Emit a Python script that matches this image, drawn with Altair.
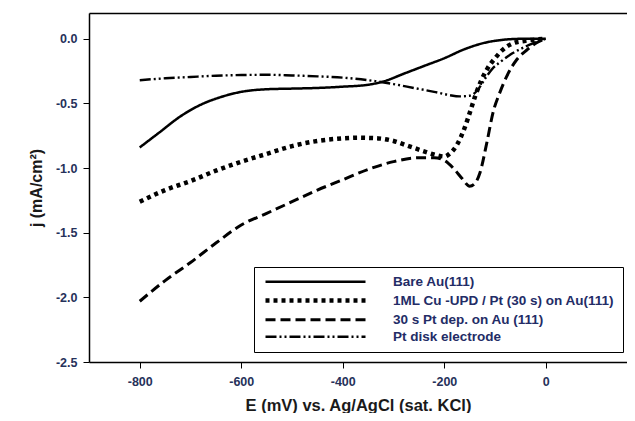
import altair as alt
import pandas as pd

series_names = [
    "Bare Au(111)",
    "1ML Cu -UPD / Pt (30 s) on Au(111)",
    "30 s Pt dep. on Au (111)",
    "Pt disk electrode",
]

bare_E = [-800, -760, -720, -680, -640, -600, -550, -500, -450, -400, -350, -320, -280, -240, -200, -160, -120, -90, -50, 0]
bare_j = [-0.84, -0.72, -0.60, -0.51, -0.45, -0.41, -0.39, -0.385, -0.38, -0.37, -0.355, -0.33, -0.27, -0.21, -0.15, -0.08, -0.03, -0.01, 0.0, 0.0]

cu_E = [-800, -750, -700, -650, -600, -550, -500, -450, -400, -370, -330, -300, -270, -240, -215, -200, -190, -175, -160, -148, -138, -128, -115, -100, -85, -65, -40, 0]
cu_j = [-1.26, -1.17, -1.10, -1.02, -0.95, -0.89, -0.83, -0.79, -0.77, -0.765, -0.77, -0.79, -0.83, -0.87, -0.90, -0.91, -0.89, -0.82, -0.69, -0.55, -0.43, -0.33, -0.23, -0.15, -0.085, -0.035, -0.015, 0.0]

pt30_E = [-800, -750, -700, -650, -600, -550, -500, -450, -400, -350, -300, -250, -220, -200, -180, -165, -150, -140, -130, -116, -104, -91, -77, -57, -37, -18, 0]
pt30_j = [-2.03, -1.87, -1.73, -1.58, -1.44, -1.35, -1.26, -1.17, -1.09, -1.01, -0.95, -0.92, -0.92, -0.94, -1.01, -1.08, -1.14, -1.12, -1.04, -0.80, -0.57, -0.42, -0.29, -0.16, -0.085, -0.03, 0.0]

disk_E = [-800, -750, -700, -650, -600, -550, -500, -450, -400, -350, -300, -260, -220, -190, -170, -150, -135, -120, -105, -90, -65, -40, -20, 0]
disk_j = [-0.32, -0.305, -0.295, -0.285, -0.28, -0.278, -0.283, -0.29, -0.30, -0.32, -0.35, -0.38, -0.41, -0.435, -0.445, -0.44, -0.40, -0.31, -0.23, -0.18, -0.11, -0.06, -0.025, 0.0]

x_ticks = [-800, -600, -400, -200, 0]
y_ticks = [0.0, -0.5, -1.0, -1.5, -2.0, -2.5]

rows = []
for name, es, js in zip(series_names, [bare_E, cu_E, pt30_E, disk_E], [bare_j, cu_j, pt30_j, disk_j]):
    for e, j in zip(es, js):
        rows.append({"series": name, "E": e, "j": j})
df = pd.DataFrame(rows)

label_color = "#26315a"
font = "Liberation Sans"
minus_fix = "replace(datum.label, '\u2212', '-')"

x_scale = alt.Scale(domain=[-900, 160], nice=False, zero=False)
y_scale = alt.Scale(domain=[-2.5, 0.2], nice=False, zero=False)

y_axis = alt.Axis(values=y_ticks, format=".1f", title="j (mA/cm²)", grid=False,
                  labelExpr=minus_fix, domainColor="black", domainWidth=1.5,
                  tickColor="black", tickSize=6, labelPadding=6,
                  labelFont=font, labelFontWeight="bold", labelFontSize=12.5, labelColor=label_color,
                  titleFont=font, titleFontWeight="bold", titleFontSize=16, titleColor="#1a1a1a",
                  titlePadding=11)

legend = alt.Legend(
    title=None,
    orient="none",
    legendX=165,
    legendY=254,
    symbolType="M-10,0H10",
    symbolSize=100,
    symbolStrokeColor="black",
    symbolOffset=46,
    labelOffset=70,
    labelFont=font,
    labelFontWeight="bold",
    labelFontSize=13.5,
    labelColor="#232c66",
    labelLimit=400,
    rowPadding=2,
    padding=8,
    strokeColor="black",
    fillColor="white",
    cornerRadius=0,
)

lines = alt.Chart(df).mark_line(interpolate="monotone", color="black").encode(
    x=alt.X("E:Q", scale=x_scale,
            axis=alt.Axis(values=x_ticks, title="E (mV) vs. Ag/AgCl (sat. KCl)", grid=False,
                          labelExpr=minus_fix, domainColor="black", domainWidth=1.5,
                          tickColor="black", tickSize=6, labelPadding=7,
                          labelFont=font, labelFontWeight="bold", labelFontSize=12.5, labelColor=label_color,
                          titleFont=font, titleFontWeight="bold", titleFontSize=16.5, titleColor="#1a1a1a",
                          titlePadding=10)),
    y=alt.Y("j:Q", scale=y_scale, axis=y_axis),
    strokeDash=alt.StrokeDash("series:N",
                              scale=alt.Scale(domain=series_names,
                                              range=[[1, 0], [4, 4], [10, 5], [11, 3, 2, 3, 2, 3]]),
                              legend=legend),
    strokeWidth=alt.StrokeWidth("series:N",
                                scale=alt.Scale(type="ordinal", domain=series_names, range=[2.5, 4.5, 3, 2.4]),
                                legend=legend),
    detail="series:N",
)

top_frame = alt.Chart(df).mark_line(opacity=0).encode(
    x=alt.X("E:Q", scale=x_scale,
            axis=alt.Axis(orient="top", labels=False, ticks=False, title=None, grid=False,
                          domainColor="black", domainWidth=1.5)),
    y=alt.Y("j:Q", scale=y_scale, axis=y_axis),
    detail="series:N",
)

chart = alt.layer(lines, top_frame).resolve_axis(x="independent").properties(
    width=538,
    height=349,
    padding={"left": 81, "top": 5, "right": 0, "bottom": 51},
    autosize=alt.AutoSizeParams(type="none"),
).configure_view(stroke=None).configure(background="white")

chart.save("out.html", embed_options={"renderer": "svg", "actions": False})
